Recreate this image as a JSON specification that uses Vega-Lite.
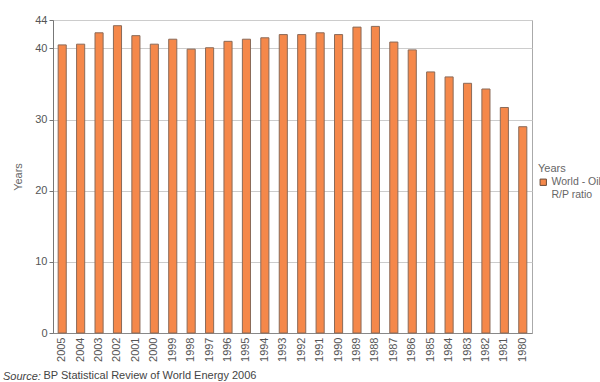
{
  "$schema": "https://vega.github.io/schema/vega-lite/v6.json",
  "width": 479,
  "height": 313,
  "autosize": {"type": "none"},
  "padding": {"left": 53, "top": 20, "right": 68, "bottom": 49},
  "background": "white",
  "config": {
    "font": "Liberation Sans",
    "view": {"stroke": "#aaaaaa", "strokeWidth": 1},
    "axis": {"labelColor": "#555555", "titleColor": "#555555", "labelFont": "Liberation Sans", "titleFont": "Liberation Sans", "titleFontWeight": "normal"}
  },
  "title": {
    "text": "Source:",
    "orient": "bottom",
    "anchor": "start",
    "frame": "group",
    "baseline": "middle",
    "fontStyle": "italic",
    "fontWeight": "normal",
    "fontSize": 11,
    "color": "#444444",
    "font": "Liberation Sans",
    "offset": -3,
    "dx": -50
  },
  "data": {
    "values": [
      {"year": "2005", "value": 40.5, "series": "World - Oil R/P ratio"},
      {"year": "2004", "value": 40.6, "series": "World - Oil R/P ratio"},
      {"year": "2003", "value": 42.2, "series": "World - Oil R/P ratio"},
      {"year": "2002", "value": 43.2, "series": "World - Oil R/P ratio"},
      {"year": "2001", "value": 41.8, "series": "World - Oil R/P ratio"},
      {"year": "2000", "value": 40.6, "series": "World - Oil R/P ratio"},
      {"year": "1999", "value": 41.3, "series": "World - Oil R/P ratio"},
      {"year": "1998", "value": 39.9, "series": "World - Oil R/P ratio"},
      {"year": "1997", "value": 40.1, "series": "World - Oil R/P ratio"},
      {"year": "1996", "value": 41.0, "series": "World - Oil R/P ratio"},
      {"year": "1995", "value": 41.3, "series": "World - Oil R/P ratio"},
      {"year": "1994", "value": 41.5, "series": "World - Oil R/P ratio"},
      {"year": "1993", "value": 41.95, "series": "World - Oil R/P ratio"},
      {"year": "1992", "value": 41.95, "series": "World - Oil R/P ratio"},
      {"year": "1991", "value": 42.2, "series": "World - Oil R/P ratio"},
      {"year": "1990", "value": 41.95, "series": "World - Oil R/P ratio"},
      {"year": "1989", "value": 43.0, "series": "World - Oil R/P ratio"},
      {"year": "1988", "value": 43.1, "series": "World - Oil R/P ratio"},
      {"year": "1987", "value": 40.9, "series": "World - Oil R/P ratio"},
      {"year": "1986", "value": 39.8, "series": "World - Oil R/P ratio"},
      {"year": "1985", "value": 36.7, "series": "World - Oil R/P ratio"},
      {"year": "1984", "value": 36.0, "series": "World - Oil R/P ratio"},
      {"year": "1983", "value": 35.1, "series": "World - Oil R/P ratio"},
      {"year": "1982", "value": 34.3, "series": "World - Oil R/P ratio"},
      {"year": "1981", "value": 31.7, "series": "World - Oil R/P ratio"},
      {"year": "1980", "value": 29.0, "series": "World - Oil R/P ratio"}
    ]
  },
  "mark": {"type": "bar", "stroke": "#8a6a58", "strokeWidth": 1},
  "encoding": {
    "x": {
      "field": "year",
      "type": "nominal",
      "sort": null,
      "scale": {"paddingInner": 0.56, "paddingOuter": 0.28},
      "axis": {
        "title": "BP Statistical Review of World Energy 2006",
        "titleAnchor": "start",
        "titleX": -10,
        "titleY": 42,
        "titleBaseline": "middle",
        "titleFontSize": 11,
        "titleColor": "#444444",
        "labelAngle": 270,
        "labelFontSize": 11,
        "labelPadding": 4,
        "ticks": false,
        "domainColor": "#888888"
      }
    },
    "y": {
      "field": "value",
      "type": "quantitative",
      "scale": {"domain": [0, 44], "nice": false},
      "axis": {
        "title": "Years",
        "values": [0, 10, 20, 30, 40, 44],
        "titleFontSize": 11,
        "titleX": -30,
        "titleColor": "#666666",
        "labelFontSize": 11,
        "labelPadding": 2,
        "tickSize": 4,
        "tickColor": "#777777",
        "domainColor": "#777777",
        "gridColor": "#cccccc",
        "labelFlush": false
      }
    },
    "fill": {
      "field": "series",
      "type": "nominal",
      "scale": {"range": ["#f5884a"]},
      "legend": {
        "title": "Years",
        "orient": "none",
        "legendX": 485,
        "legendY": 143,
        "padding": 0,
        "titleFontSize": 11,
        "titleFontWeight": "normal",
        "titleColor": "#666666",
        "labelColor": "#666666",
        "labelFontSize": 10.5,
        "labelOffset": 3,
        "labelLimit": 200,
        "labelExpr": "['World - Oil', 'R/P ratio']",
        "symbolType": "square",
        "symbolSize": 40,
        "symbolStrokeColor": "#6a4a38",
        "symbolStrokeWidth": 1,
        "titlePadding": 3
      }
    }
  }
}
